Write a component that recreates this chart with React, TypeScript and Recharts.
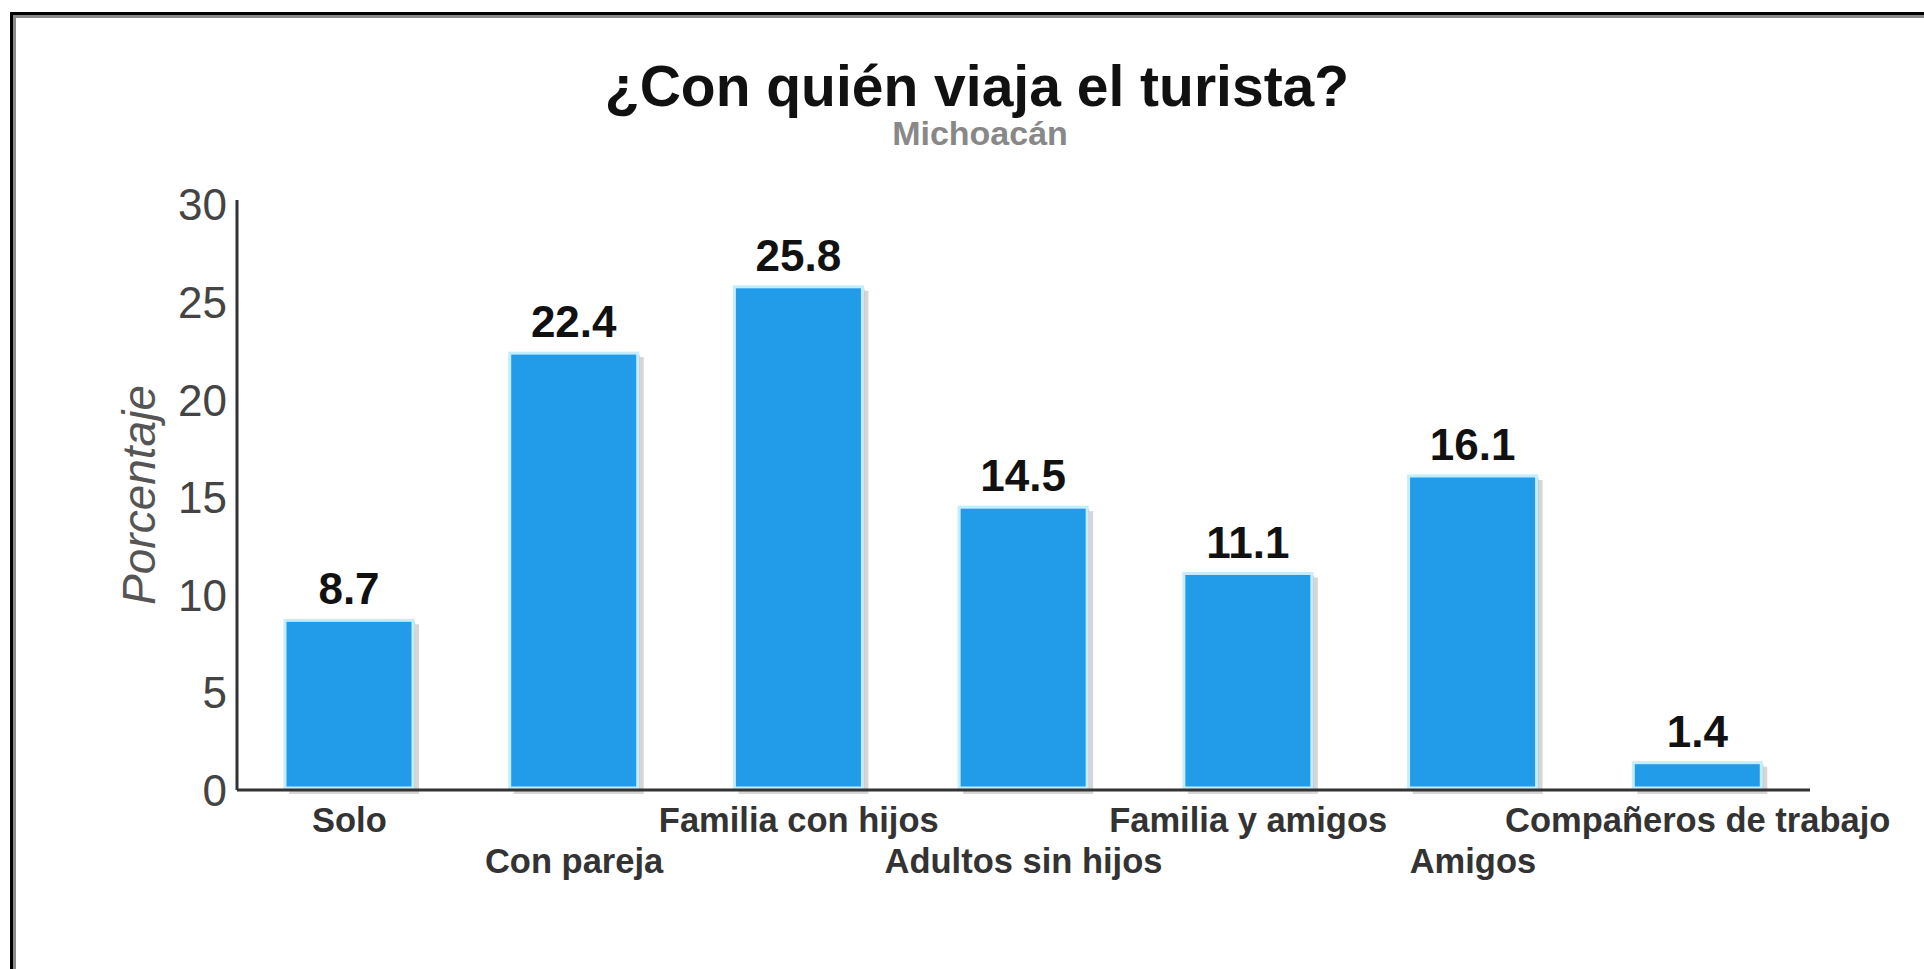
import React from 'react';
import { BarChart, Bar, XAxis, YAxis, LabelList } from 'recharts';

const FONT = '"Liberation Sans", Arial, Helvetica, sans-serif';

const categories = [
  'Solo',
  'Con pareja',
  'Familia con hijos',
  'Adultos sin hijos',
  'Familia y amigos',
  'Amigos',
  'Compañeros de trabajo',
];
const values = [8.7, 22.4, 25.8, 14.5, 11.1, 16.1, 1.4];
const yTicks = [0, 5, 10, 15, 20, 25, 30];

const TITLE = '¿Con quién viaja el turista?';
const SUBTITLE = 'Michoacán';
const Y_LABEL = 'Porcentaje';

const BarShape = (props: any) => {
  const { x, y, width, height } = props;
  if (!height || height <= 0) return null;
  return (
    <g>
      <rect x={x + 4} y={y + 4} width={width + 2} height={height} fill="#d6d6d6" />
      <rect x={x + 2} y={y + 2} width={width} height={height - 2} fill="#c0c0c0" />
      <rect
        x={x}
        y={y}
        width={width}
        height={height - 2}
        fill="#229BE8"
        stroke="#C4EEFF"
        strokeWidth={3}
      />
    </g>
  );
};

const XTick = (props: any) => {
  const { x, y, payload } = props;
  const idx = typeof props.index === 'number' ? props.index : categories.indexOf(payload.value);
  const dy = idx % 2 === 0 ? 42 : 83;
  return (
    <text
      x={x}
      y={y + dy}
      textAnchor="middle"
      fontSize={34.5}
      fontWeight="bold"
      fill="#333"
      fontFamily={FONT}
    >
      {payload.value}
    </text>
  );
};

export default function App() {
  const data = categories.map((c, i) => ({ name: c, value: values[i] }));
  return (
    <div
      style={{
        position: 'absolute',
        left: 0,
        top: 0,
        width: 1924,
        height: 969,
        overflow: 'hidden',
        background: '#fff',
        fontFamily: FONT,
      }}
    >
      <div
        style={{
          position: 'absolute',
          left: 10,
          top: 12,
          width: 2000,
          height: 1100,
          borderTop: '3px solid #000',
          borderLeft: '3px solid #000',
          boxShadow: 'inset 3px 3px 0 #8a8a8a',
        }}
      />
      <div style={{ position: 'absolute', left: 0, top: 0 }}>
        <BarChart
          width={1924}
          height={969}
          data={data}
          margin={{ top: 200, right: 114, bottom: 79, left: 157 }}
        >
          <Bar dataKey="value" shape={BarShape} isAnimationActive={false} barSize={128}>
            <LabelList
              dataKey="value"
              position="top"
              offset={16}
              style={{ fontSize: 44, fontWeight: 'bold', fill: '#111', fontFamily: FONT }}
            />
          </Bar>
          <XAxis
            dataKey="name"
            height={100}
            interval={0}
            tick={<XTick />}
            tickLine={false}
            tickSize={0}
            tickMargin={0}
            axisLine={{ stroke: '#333', strokeWidth: 3 }}
          />
          <YAxis
            type="number"
            domain={[0, 30.25]}
            ticks={yTicks}
            width={80}
            tickLine={false}
            tickSize={0}
            tickMargin={10}
            axisLine={{ stroke: '#333', strokeWidth: 3 }}
            tick={{ fontSize: 44, fill: '#444', fontFamily: FONT }}
          />
        </BarChart>
      </div>
      <svg
        width={1924}
        height={969}
        style={{ position: 'absolute', left: 0, top: 0, pointerEvents: 'none' }}
      >
        <text
          x={977}
          y={106}
          textAnchor="middle"
          fontSize={57}
          fontWeight="bold"
          fill="#111"
          fontFamily={FONT}
        >
          {TITLE}
        </text>
        <text
          x={980}
          y={145}
          textAnchor="middle"
          fontSize={34}
          fontWeight="bold"
          fill="#888"
          fontFamily={FONT}
        >
          {SUBTITLE}
        </text>
        <text
          transform="translate(155,495) rotate(-90)"
          textAnchor="middle"
          fontSize={46}
          fontStyle="italic"
          fill="#555"
          fontFamily={FONT}
        >
          {Y_LABEL}
        </text>
      </svg>
    </div>
  );
}
